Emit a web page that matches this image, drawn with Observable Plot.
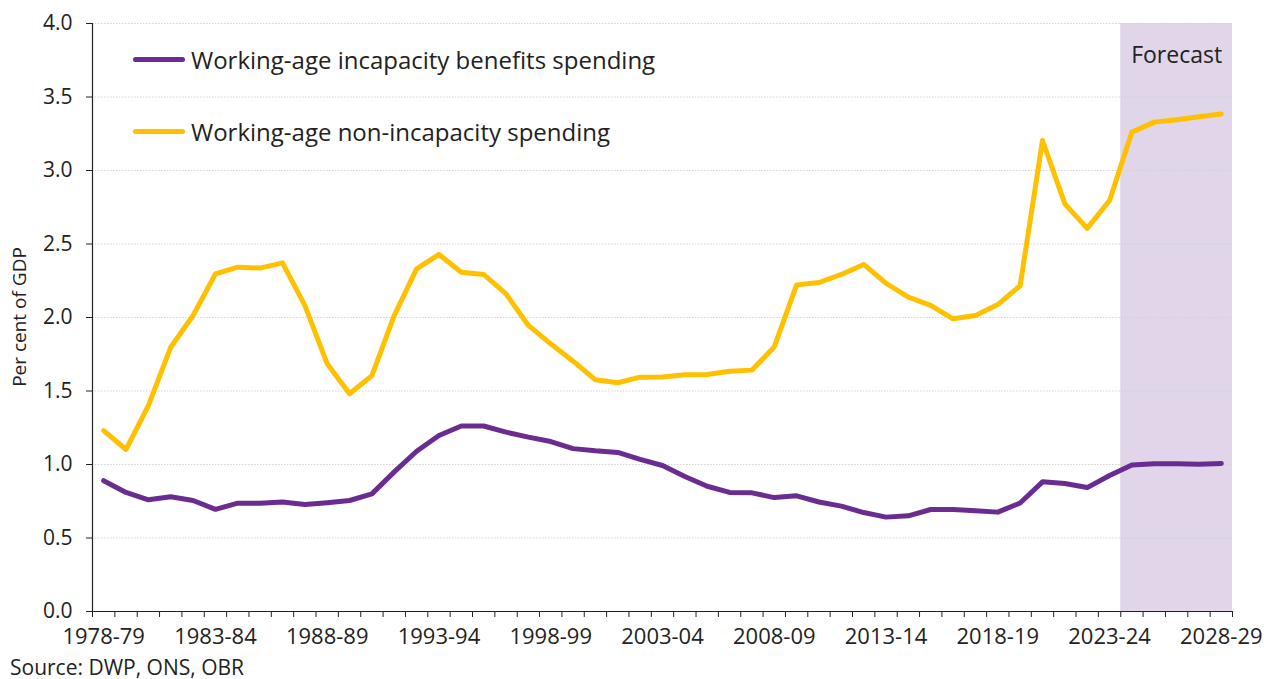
<!DOCTYPE html>
<html>
<head>
<meta charset="utf-8">
<script src="https://cdn.jsdelivr.net/npm/d3@7"></script>
<script src="https://cdn.jsdelivr.net/npm/@observablehq/plot@0.6"></script>
<style>
  html, body { margin: 0; padding: 0; background: #fff; }
  #wrap { position: relative; width: 1264px; height: 679px; font-family: "Open Sans", Lato, sans-serif; color: #222; }
  #legend { position: absolute; left: 133px; top: 39px; font-size: 24px; }
  #legend .row { display: flex; align-items: center; height: 40px; margin-bottom: 32px; }
  #legend .sw { width: 52px; height: 5px; border-radius: 3px; margin-right: 6px; }
  #ylabel { position: absolute; left: 19px; top: 317px; transform: translate(-50%, -50%) rotate(-90deg); font-size: 19px; white-space: nowrap; }
  #caption { position: absolute; left: 10px; top: 653px; font-size: 21px; }
</style>
</head>
<body>
<div id="wrap">
  <div id="chart"></div>
  <div id="legend"></div>
  <div id="ylabel">Per cent of GDP</div>
  <div id="caption">Source: DWP, ONS, OBR</div>
</div>
<script>
const categories = [
  "1978-79","1979-80","1980-81","1981-82","1982-83","1983-84","1984-85","1985-86","1986-87","1987-88",
  "1988-89","1989-90","1990-91","1991-92","1992-93","1993-94","1994-95","1995-96","1996-97","1997-98",
  "1998-99","1999-00","2000-01","2001-02","2002-03","2003-04","2004-05","2005-06","2006-07","2007-08",
  "2008-09","2009-10","2010-11","2011-12","2012-13","2013-14","2014-15","2015-16","2016-17","2017-18",
  "2018-19","2019-20","2020-21","2021-22","2022-23","2023-24","2024-25","2025-26","2026-27","2027-28",
  "2028-29"
];
const incapacity = [
  0.89, 0.81, 0.76, 0.78, 0.755, 0.695, 0.737, 0.737, 0.745, 0.728,
  0.74, 0.755, 0.80, 0.95, 1.09, 1.197, 1.262, 1.262, 1.22, 1.186,
  1.156, 1.108, 1.093, 1.082, 1.035, 0.993, 0.918, 0.852, 0.81, 0.807,
  0.775, 0.787, 0.745, 0.717, 0.673, 0.642, 0.651, 0.694, 0.694, 0.685,
  0.676, 0.738, 0.882, 0.871, 0.843, 0.925, 0.997, 1.005, 1.005, 1.002,
  1.007
];
const nonIncapacity = [
  1.231, 1.102, 1.401, 1.798, 2.014, 2.297, 2.342, 2.336, 2.372, 2.082,
  1.685, 1.481, 1.605, 2.014, 2.331, 2.429, 2.308, 2.293, 2.161, 1.946,
  1.821, 1.703, 1.576, 1.556, 1.594, 1.596, 1.610, 1.612, 1.635, 1.642,
  1.80, 2.222, 2.238, 2.293, 2.361, 2.233, 2.138, 2.082, 1.991, 2.014,
  2.088, 2.216, 3.204, 2.773, 2.606, 2.796, 3.261, 3.329, 3.345, 3.366,
  3.385
];
const tickLabels = ["1978-79","1983-84","1988-89","1993-94","1998-99","2003-04","2008-09","2013-14","2018-19","2023-24","2028-29"];
const yTicks = [0, 0.5, 1.0, 1.5, 2.0, 2.5, 3.0, 3.5, 4.0];
const forecastRange = ["2024-25", "2028-29"];
const forecastLabel = ["Forecast"];
const seriesNames = ["Working-age incapacity benefits spending", "Working-age non-incapacity spending"];
const seriesColors = ["#6a2c91", "#ffc000"];

const yr = s => +s.slice(0, 4);
const data = categories.map((c, i) => ({year: yr(c), label: c, incapacity: incapacity[i], nonIncapacity: nonIncapacity[i]}));
const first = yr(categories[0]), last = yr(categories[categories.length - 1]);
const boundaries = d3.range(first - 0.5, last + 0.51, 1);
const labelMap = new Map(categories.map(c => [yr(c), c]));
const forecast = [{x1: yr(forecastRange[0]) - 0.5, x2: yr(forecastRange[1]) + 0.5}];

const chart = Plot.plot({
  width: 1264,
  height: 650,
  marginLeft: 92,
  marginRight: 32,
  marginTop: 23,
  marginBottom: 39,
  style: {fontFamily: "'Open Sans', Lato, sans-serif", fontSize: "21px", color: "#222", background: "#fff"},
  x: {domain: [first - 0.5, last + 0.5]},
  y: {domain: [0, 4]},
  marks: [
    Plot.rect(forecast, {x1: "x1", x2: "x2", y1: 0, y2: 4, fill: "#e0d5e9"}),
    Plot.gridY(yTicks.filter(d => d > 0), {stroke: "#d2d2d2", strokeOpacity: 1, strokeDasharray: "1.5,1.5"}),
    Plot.axisY(yTicks, {tickFormat: d3.format(".1f"), tickSize: 6, tickPadding: 14, label: null, fontSize: 21, stroke: "#222"}),
    Plot.axisX(boundaries, {tickFormat: () => "", tickSize: 6, label: null, stroke: "#222"}),
    Plot.axisX(tickLabels.map(yr), {tickFormat: d => labelMap.get(d), tickSize: 0, tickPadding: 17, label: null, fontSize: 22}),
    Plot.ruleY([0], {stroke: "#222", strokeWidth: 1.2}),
    Plot.ruleX([first - 0.5], {stroke: "#222", strokeWidth: 1.2}),
    Plot.line(data, {x: "year", y: "nonIncapacity", stroke: seriesColors[1], strokeWidth: 5, strokeLinejoin: "round", strokeLinecap: "round"}),
    Plot.line(data, {x: "year", y: "incapacity", stroke: seriesColors[0], strokeWidth: 5, strokeLinejoin: "round", strokeLinecap: "round"}),
    Plot.text(forecastLabel, {x: (forecast[0].x1 + forecast[0].x2) / 2, y: 3.78, fontSize: 23, fill: "#222"})
  ]
});
document.getElementById("chart").appendChild(chart);

const legend = document.getElementById("legend");
seriesNames.forEach((name, i) => {
  const row = document.createElement("div");
  row.className = "row";
  const sw = document.createElement("div");
  sw.className = "sw";
  sw.style.background = seriesColors[i];
  const t = document.createElement("span");
  t.textContent = name;
  row.appendChild(sw);
  row.appendChild(t);
  legend.appendChild(row);
});
</script>
</body>
</html>
